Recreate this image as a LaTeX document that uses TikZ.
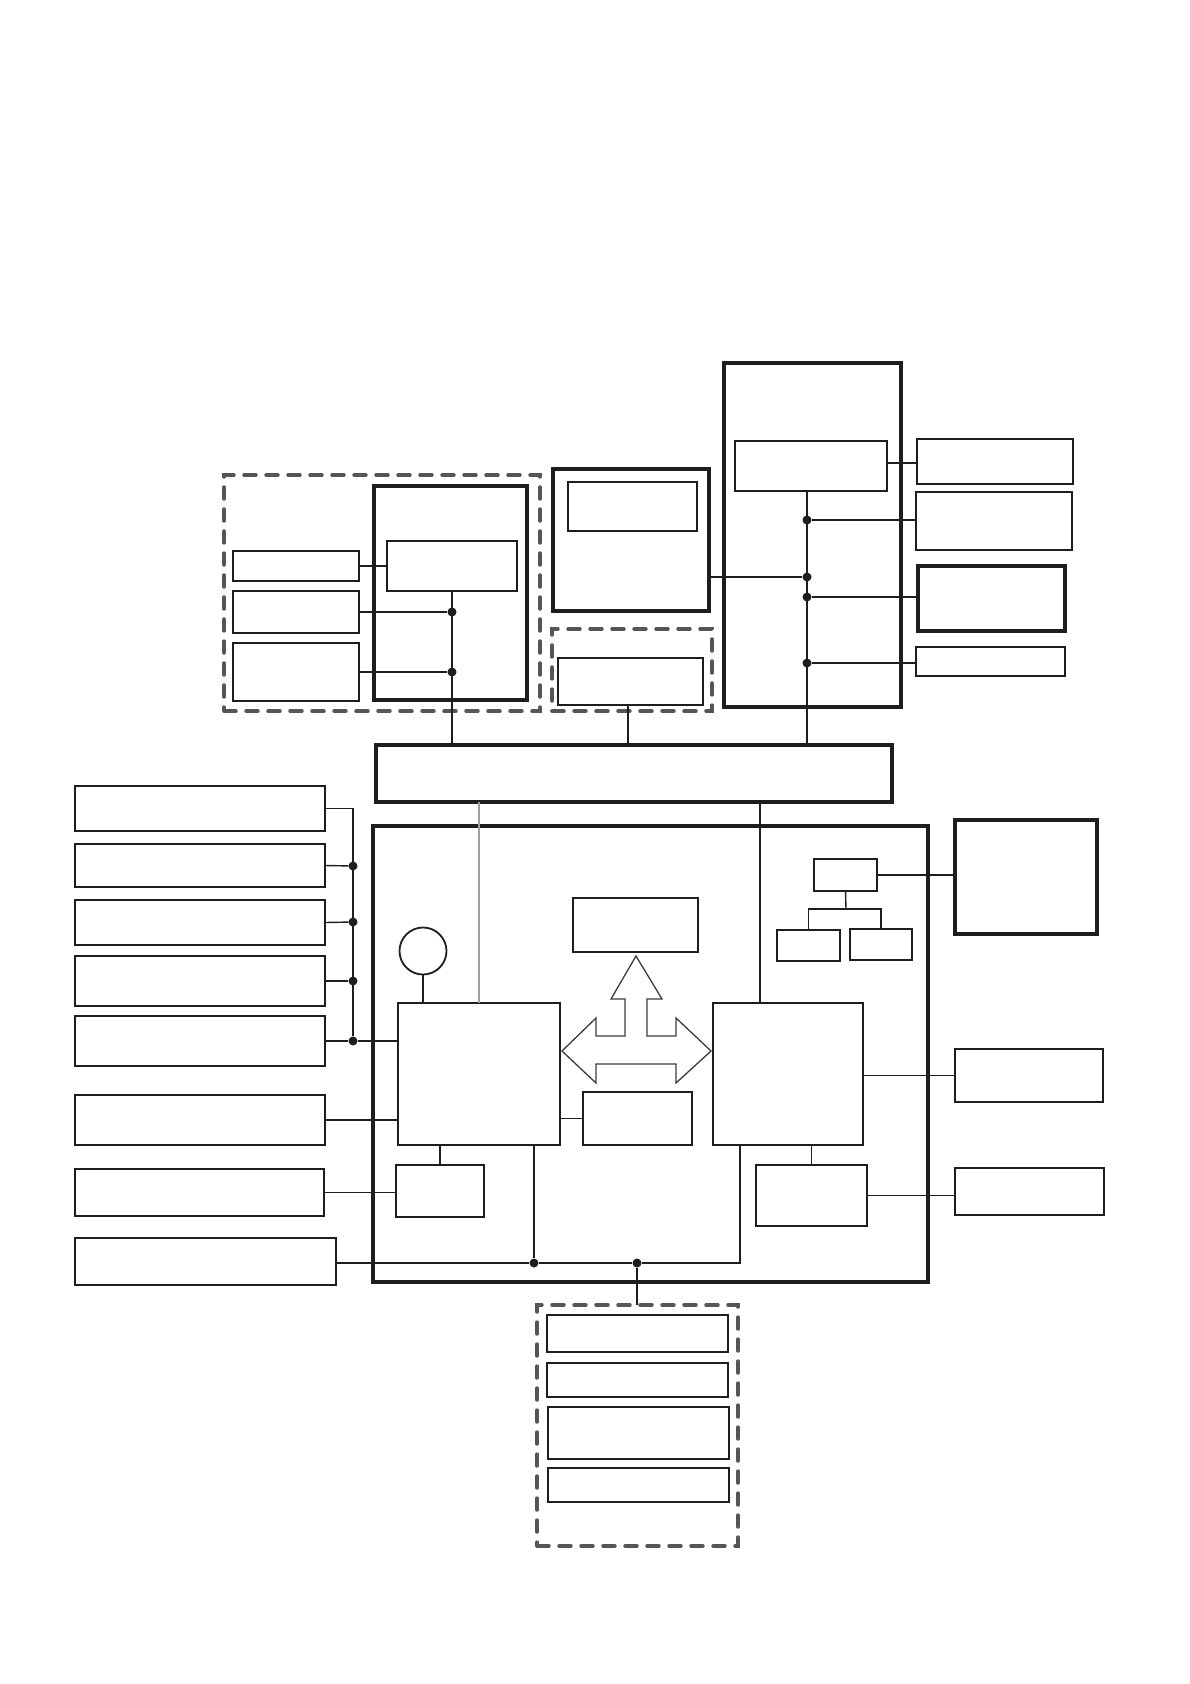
\documentclass[tikz,border=0pt]{standalone}
\usetikzlibrary{calc}
\definecolor{ink}{HTML}{1E1E1E}
\definecolor{dashc}{HTML}{555555}
\definecolor{arrc}{HTML}{3C3C3C}
\tikzset{
  bx/.style={draw=ink, line width=2.4pt, inner sep=0pt, outer sep=0pt},
  thk/.style={draw=ink, line width=4.7pt, inner sep=0pt, outer sep=0pt},
  grp/.style={draw=dashc, line width=3.4pt, dash pattern=on 12pt off 10pt, line cap=round, inner sep=0pt, outer sep=0pt},
  wire/.style={draw=ink, line width=1.4pt},
  gwire/.style={draw=gray!75, line width=1.6pt},
  dotn/.style={circle, fill=ink, inner sep=0pt, minimum size=9pt},
  arrowst/.style={draw=arrc, line width=1.3pt, line join=miter},
}
\newcommand\bx[6]{%
  \pgfmathsetmacro\bxw{#4-#2}%
  \pgfmathsetmacro\bxh{#5-#3}%
  \pgfmathsetmacro\bxx{(#2+#4)/2}%
  \pgfmathsetmacro\bxy{(#3+#5)/2}%
  \node[#1, minimum width=\bxw pt, minimum height=\bxh pt] (#6) at (\bxx,\bxy) {};}
\begin{document}
\begin{tikzpicture}[x=1pt,y=-1pt]
\useasboundingbox (0,0) rectangle (1190,1684);

% ---------- top-left group ----------
\bx{grp}{224}{475}{540}{711}{GL}
\bx{thk}{374}{486}{527}{700}{A}
\bx{bx}{387}{541}{517}{591}{A1}
\bx{bx}{233}{551}{359}{581}{L1}
\bx{bx}{233}{591}{359}{633}{L2}
\bx{bx}{233}{643}{359}{701}{L3}

% ---------- top-middle ----------
\bx{thk}{553}{469}{709}{611}{B}
\bx{bx}{568}{482}{697}{531}{B1}
\bx{grp}{552}{629}{712}{711}{GC}
\bx{bx}{558}{658}{703}{705}{C1}

% ---------- top-right ----------
\bx{thk}{724}{363}{901}{707}{D}
\bx{bx}{735}{441}{887}{491}{D1}
\bx{bx}{917}{439}{1073}{484}{R1}
\bx{bx}{916}{492}{1072}{550}{R2}
\bx{thk}{918}{566}{1065}{631}{R3}
\bx{bx}{916}{647}{1065}{676}{R4}

% ---------- bus ----------
\bx{thk}{376}{745}{892}{802}{BUS}

% ---------- main box ----------
\bx{thk}{373}{826}{928}{1282}{F}
\bx{bx}{398}{1003}{560}{1145}{P1}
\bx{bx}{713}{1003}{863}{1145}{P2}
\bx{bx}{573}{898}{698}{952}{M1}
\bx{bx}{583}{1092}{692}{1145}{M2}
\bx{bx}{396}{1165}{484}{1217}{S1}
\bx{bx}{756}{1165}{867}{1226}{S2}
\bx{bx}{814}{859}{877}{891}{T1}
\bx{bx}{777}{930}{840}{961}{T2}
\bx{bx}{850}{929}{912}{960}{T3}
\node[circle, draw=ink, line width=1.8pt, inner sep=0pt, outer sep=0pt, minimum size=47pt] (CI) at (423,951) {};

% ---------- right column ----------
\bx{thk}{955}{820}{1097}{934}{RB1}
\bx{bx}{955}{1049}{1103}{1102}{RB2}
\bx{bx}{955}{1168}{1104}{1215}{RB3}

% ---------- left column ----------
\bx{bx}{75}{786}{325}{831}{LB1}
\bx{bx}{75}{844}{325}{887}{LB2}
\bx{bx}{75}{900}{325}{945}{LB3}
\bx{bx}{75}{956}{325}{1006}{LB4}
\bx{bx}{75}{1016}{325}{1066}{LB5}
\bx{bx}{75}{1095}{325}{1145}{LB6}
\bx{bx}{75}{1169}{324}{1216}{LB7}
\bx{bx}{75}{1238}{336}{1285}{LB8}

% ---------- bottom group ----------
\bx{grp}{537}{1305}{738}{1546}{G}
\bx{bx}{547}{1315}{728}{1352}{G1}
\bx{bx}{547}{1363}{728}{1397}{G2}
\bx{bx}{548}{1407}{729}{1459}{G3}
\bx{bx}{548}{1468}{729}{1502}{G4}

% ---------- junction dots & coordinates ----------
\node[dotn] (dA1) at (452,612) {};
\node[dotn] (dA2) at (452,672) {};
\node[dotn] (dD1) at (807,520) {};
\node[dotn] (dD2) at (807,577) {};
\node[dotn] (dD3) at (807,597) {};
\node[dotn] (dD4) at (807,663) {};
\node[dotn] (dL2) at (353,866) {};
\node[dotn] (dL3) at (353,922) {};
\node[dotn] (dL4) at (353,981) {};
\node[dotn] (dL5) at (353,1041) {};
\node[dotn] (dB1) at (534,1263) {};
\node[dotn] (dB2) at (637,1263) {};
\coordinate (vD) at (807,500);
\coordinate (vP2) at (760,900);
\coordinate (vQ) at (740,1263);
\coordinate (tj) at (846,909);
\coordinate (yR1) at (900,463);

% ---------- wires ----------
\draw[wire] (L1.east) -- (L1.east -| A1.west);
\draw[wire] (L2.east) -- (dA1);
\draw[wire] (L3.east) -- (dA2);
\draw[wire] (A1.south -| dA1) -- (BUS.north -| dA1);
\draw[wire] (C1.south -| 628,0) -- (BUS.north -| 628,0);
\draw[wire] (D1.east |- yR1) -- (R1.west |- yR1);
\draw[wire] (D1.south -| vD) -- (BUS.north -| vD);
\draw[wire] (dD1) -- (R2.west |- dD1);
\draw[wire] (B.east |- dD2) -- (dD2);
\draw[wire] (dD3) -- (R3.west |- dD3);
\draw[wire] (dD4) -- (R4.west |- dD4);

\draw[gwire] (BUS.south -| P1.north) -- (P1.north);
\draw[wire] (BUS.south -| vP2) -- (P2.north -| vP2);

\draw[wire] (LB1.east) -| (dL5);
\draw[wire] (LB2.east) -- (dL2);
\draw[wire] (LB3.east) -- (dL3);
\draw[wire] (LB4.east) -- (dL4);
\draw[wire] (LB5.east) -- (dL5) -- (dL5 -| P1.west);
\draw[wire] (LB6.east) -- (LB6.east -| P1.west);
\draw[wire] (LB7.east) -- (LB7.east -| S1.west);
\draw[wire] (LB8.east |- dB1) -- (dB1) -- (dB2) -- (vQ) -- (vQ |- P2.south);
\draw[wire] (dB1) -- (dB1 |- P1.south);
\draw[wire] (dB2) -- (dB2 |- G.north);
\draw[wire] (S1.north) -- (S1.north |- P1.south);
\draw[wire] (M2.west) -- (M2.west -| P1.east);
\draw[wire] (CI.south) -- (CI.south |- P1.north);
\draw[wire] (S2.north) -- (S2.north |- P2.south);
\draw[wire] (RB2.west) -- (RB2.west -| P2.east);
\draw[wire] (S2.east) -- (S2.east -| RB3.west);
\draw[wire] (T1.east) -- (T1.east -| RB1.west);
\draw[wire] (T1.south) -- (tj);
\draw[wire] (T2.north) |- (tj) -| (T3.north);

% ---------- three-way block arrow ----------
\draw[arrowst] (562,1051) -- (596,1018) -- (596,1036) -- (625,1036) -- (625,999)
  -- (611,999) -- (636,956) -- (662,999) -- (647,999) -- (647,1036) -- (676,1036)
  -- (676,1018) -- (711,1051) -- (676,1083) -- (676,1064) -- (596,1064)
  -- (596,1083) -- cycle;
\end{tikzpicture}
\end{document}
